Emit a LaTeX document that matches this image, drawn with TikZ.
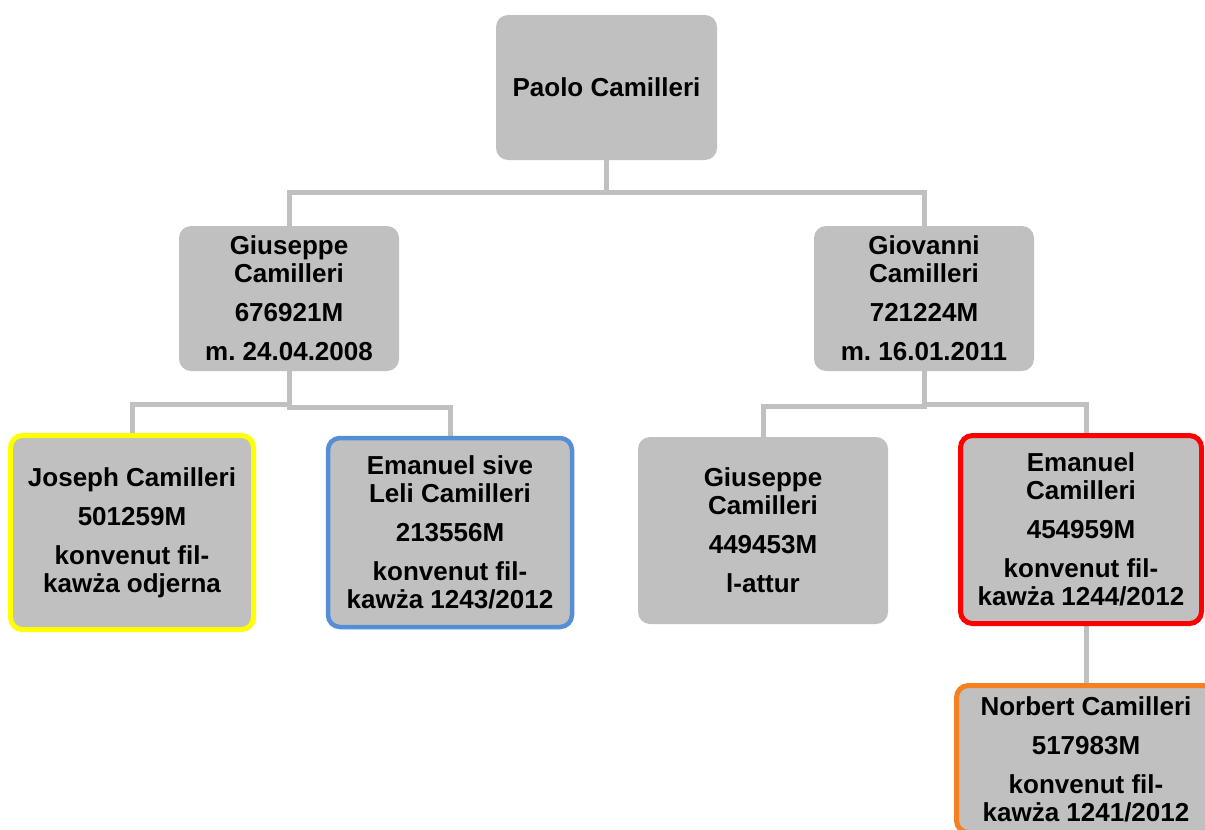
\documentclass[tikz,border=0pt]{standalone}
\usepackage{fontspec}
\setmainfont{Liberation Sans}
\usetikzlibrary{backgrounds}
\frenchspacing
\definecolor{boxgray}{RGB}{192,192,192}
\definecolor{linegray}{RGB}{192,192,192}
\definecolor{bdyellow}{RGB}{255,255,0}
\definecolor{bdblue}{RGB}{85,142,213}
\definecolor{bdred}{RGB}{255,0,0}
\definecolor{bdorange}{RGB}{245,128,31}
\tikzset{
  person/.style={rounded corners=12pt, fill=boxgray, align=center, inner sep=0pt,
    font=\fontsize{26}{28}\selectfont\bfseries\frenchspacing},
  bordered/.style={person, draw=#1, line width=5pt},
  conn/.style={draw=linegray, line width=5pt}
}
\begin{document}
\begin{tikzpicture}[x=1pt,y=-1pt]
\useasboundingbox (0,0) rectangle (1205,830);
\clip (0,0) rectangle (1205,830);
\node[person, minimum width=221pt, minimum height=145pt] (paolo) at (606.5,87.5) {Paolo Camilleri};
\node[person, minimum width=220pt, minimum height=145pt] (gius1) at (289,298.5) {Giuseppe\\Camilleri\\[11pt]676921M\\[11pt]m. 24.04.2008};
\node[person, minimum width=220pt, minimum height=145pt] (giov) at (924,298.5) {Giovanni\\Camilleri\\[11pt]721224M\\[11pt]m. 16.01.2011};
\node[bordered=bdyellow, minimum width=243pt, minimum height=194pt] (joseph) at (132,532.5) {Joseph Camilleri\\[11pt]501259M\\[11pt]konvenut fil-\\kawża odjerna};
\node[bordered=bdblue, line width=4.5pt, minimum width=244pt, minimum height=189pt] (emsive) at (450,532.5) {Emanuel sive\\Leli Camilleri\\[11pt]213556M\\[11pt]konvenut fil-\\kawża 1243/2012};
\node[person, minimum width=250pt, minimum height=187pt] (gius2) at (763,530.5) {Giuseppe\\Camilleri\\[11pt]449453M\\[11pt]l-attur};
\node[bordered=bdred, minimum width=241pt, minimum height=188pt] (emanuel) at (1081,529.5) {Emanuel\\Camilleri\\[11pt]454959M\\[11pt]konvenut fil-\\kawża 1244/2012};
\node[bordered=bdorange, minimum width=259pt, minimum height=147pt] (norbert) at (1086,759) {Norbert Camilleri\\[11pt]517983M\\[11pt]konvenut fil-\\kawża 1241/2012};
\begin{scope}[on background layer]
\draw[conn] (paolo.south) -- ++(0,32) -| (gius1.north);
\draw[conn] (paolo.south) -- ++(0,32) -| (giov.north);
\draw[conn] (gius1.south) -- ++(0,33) -| (joseph.north);
\draw[conn] (gius1.south) -- ++(0,36) -| (emsive.north);
\draw[conn] (giov.south) -- ++(0,35) -| (gius2.north);
\draw[conn] (giov.south) -- ++(0,33) -| ([xshift=5pt]emanuel.north);
\draw[conn] ([xshift=5pt]emanuel.south) -- (norbert.north);
\end{scope}
\end{tikzpicture}
\end{document}
